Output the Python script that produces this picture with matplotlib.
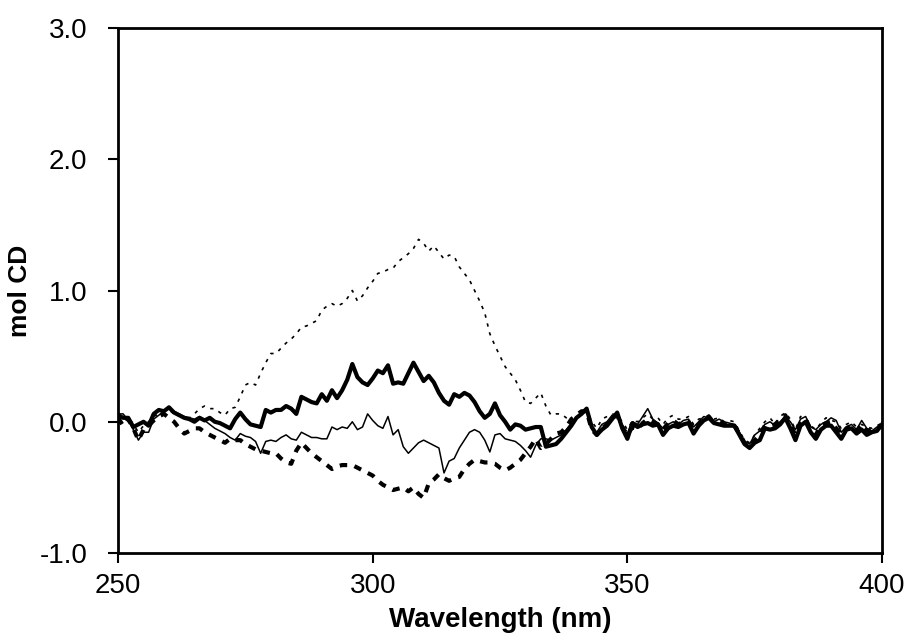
import numpy as np
import matplotlib.pyplot as plt

plt.rcParams['font.family'] = ['Liberation Sans', 'DejaVu Sans']

# wavelength, 1 nm steps
wl = np.arange(250, 401)

# thick solid line
thick_solid = [
    0.05, 0.03, 0.03, -0.04, -0.02, 0.0, -0.03, 0.06, 0.09, 0.08,
    0.11, 0.07, 0.05, 0.03, 0.02, 0.0, 0.03, 0.01, 0.03, 0.0,
    -0.01, -0.03, -0.05, 0.02, 0.07, 0.02, -0.02, -0.03, -0.04, 0.09,
    0.07, 0.09, 0.09, 0.12, 0.1, 0.06, 0.19, 0.17, 0.15, 0.14,
    0.21, 0.16, 0.24, 0.18, 0.24, 0.32, 0.44, 0.34, 0.3, 0.28,
    0.33, 0.39, 0.37, 0.43, 0.29, 0.3, 0.29, 0.37, 0.45, 0.38,
    0.31, 0.35, 0.3, 0.22, 0.16, 0.13, 0.21, 0.19, 0.22, 0.2,
    0.15, 0.08, 0.03, 0.06, 0.14, 0.05, 0.0, -0.06, -0.02, -0.03,
    -0.06, -0.05, -0.04, -0.04, -0.19, -0.18, -0.17, -0.13, -0.08, -0.03,
    0.03, 0.06, 0.1, -0.04, -0.1, -0.06, -0.03, 0.02, 0.07, -0.05,
    -0.13, -0.01, -0.04, -0.02, -0.01, -0.03, -0.02, -0.1, -0.05, -0.03,
    -0.04, -0.02, -0.01, -0.09, -0.03, 0.01, 0.03, -0.01, -0.02, -0.03,
    -0.03, -0.03, -0.1, -0.17, -0.2, -0.16, -0.14, -0.05, -0.06, -0.05,
    -0.02, 0.03, -0.05, -0.14, -0.03, 0.0, -0.08, -0.13, -0.06, -0.03,
    -0.03, -0.08, -0.13, -0.06, -0.05, -0.09, -0.06, -0.1, -0.08, -0.07,
    -0.02]

# thin solid line
thin_solid = [
    0.06, 0.06, 0.01, -0.06, -0.14, -0.08, -0.08, 0.02, 0.05, 0.08,
    0.1, 0.08, 0.06, 0.04, 0.03, 0.02, 0.04, 0.01, -0.02, -0.05,
    -0.07, -0.09, -0.12, -0.14, -0.09, -0.11, -0.12, -0.15, -0.24, -0.15,
    -0.14, -0.15, -0.12, -0.1, -0.13, -0.14, -0.08, -0.1, -0.12, -0.12,
    -0.13, -0.13, -0.04, -0.06, -0.04, -0.05, 0.0, -0.06, -0.04, 0.06,
    0.01, -0.03, -0.05, 0.04, -0.1, -0.06, -0.19, -0.24, -0.2, -0.16,
    -0.14, -0.16, -0.18, -0.2, -0.39, -0.3, -0.28, -0.2, -0.14, -0.08,
    -0.06, -0.08, -0.14, -0.23, -0.1, -0.09, -0.13, -0.14, -0.15, -0.18,
    -0.22, -0.27, -0.18, -0.13, -0.13, -0.14, -0.12, -0.1, -0.06, -0.01,
    0.03, 0.06, 0.08, -0.05, -0.08, -0.02, 0.0, 0.05, 0.04, -0.05,
    -0.09, 0.0, -0.02, 0.04, 0.1, 0.02, -0.01, -0.05, -0.02, 0.0,
    -0.02, 0.01, 0.02, -0.04, 0.0, 0.04, 0.03, 0.0, 0.02, 0.0,
    -0.01, -0.02, -0.08, -0.15, -0.17, -0.1, -0.07, -0.02, 0.0, -0.03,
    0.0, 0.04, 0.0, -0.06, 0.02, 0.04, -0.04, -0.06, -0.02, 0.0,
    0.03, 0.01, -0.08, -0.04, -0.02, -0.06, 0.01, -0.05, -0.07, -0.04,
    -0.02]

# thick dashed line
thick_dashed = [
    0.03, -0.03, 0.02, -0.05, -0.14, -0.06, -0.03, 0.01, 0.04, 0.06,
    0.03, 0.0, -0.05, -0.09, -0.07, -0.05, -0.05, -0.08, -0.1, -0.12,
    -0.14, -0.16, -0.13, -0.14, -0.14, -0.17, -0.19, -0.21, -0.22, -0.23,
    -0.24, -0.24, -0.28, -0.31, -0.32, -0.22, -0.16, -0.2, -0.24, -0.27,
    -0.3, -0.33, -0.36, -0.34, -0.33, -0.33, -0.33, -0.35, -0.37, -0.39,
    -0.41, -0.45, -0.48, -0.5, -0.52, -0.51, -0.5, -0.53, -0.5, -0.55,
    -0.58, -0.47, -0.44, -0.4, -0.43, -0.45, -0.43, -0.42, -0.36, -0.32,
    -0.29, -0.3, -0.31, -0.31, -0.32, -0.35, -0.37, -0.35, -0.32, -0.29,
    -0.24, -0.19, -0.13, -0.2, -0.17, -0.13, -0.09, -0.08, -0.04, 0.02,
    0.05, 0.08, 0.08, -0.06, -0.1, -0.05, -0.02, 0.03, 0.05, -0.04,
    -0.1, -0.04, -0.06, -0.01, 0.02, 0.0, -0.02, -0.06, -0.01, 0.01,
    -0.02, 0.0, 0.0, -0.06, -0.02, 0.02, 0.04, -0.01, 0.0, -0.02,
    -0.02, -0.03, -0.09, -0.16, -0.19, -0.14, -0.1, -0.03, -0.03, -0.02,
    0.02, 0.05, -0.03, -0.1, -0.01, 0.02, -0.06, -0.1, -0.03, -0.01,
    0.0, -0.05, -0.1, -0.05, -0.03, -0.07, -0.02, -0.07, -0.06, -0.05,
    -0.03]

# thin dotted line
thin_dotted = [
    0.03, 0.0, 0.04, -0.02, -0.08, -0.03, 0.0, 0.04, 0.06, 0.08,
    0.09, 0.06, 0.05, 0.04, 0.03, 0.06, 0.1, 0.12, 0.1, 0.1,
    0.07, 0.05, 0.1, 0.11, 0.19, 0.28, 0.3, 0.28, 0.37, 0.45,
    0.52, 0.52, 0.56, 0.6, 0.63, 0.67, 0.72, 0.73, 0.75, 0.77,
    0.85, 0.88, 0.9, 0.88, 0.9, 0.94, 1.0, 0.92, 0.96, 1.02,
    1.07, 1.13, 1.14, 1.16, 1.17, 1.22, 1.25, 1.28, 1.32, 1.39,
    1.36, 1.3, 1.34, 1.29, 1.24, 1.27, 1.26, 1.18, 1.13, 1.08,
    1.0, 0.92, 0.83, 0.67, 0.58, 0.5, 0.42, 0.37, 0.32, 0.24,
    0.15, 0.14, 0.18, 0.22, 0.12, 0.05, 0.06, 0.06, 0.03, 0.01,
    0.02, 0.08, 0.1, 0.0, -0.05, 0.02, 0.04, 0.06, 0.05, 0.0,
    -0.06, 0.01, 0.0, 0.03, 0.06, 0.02, 0.03, -0.02, 0.03, 0.05,
    0.02, 0.02, 0.04, -0.02, 0.02, 0.03, 0.05, 0.02, 0.03, 0.0,
    0.01, 0.0, -0.07, -0.14, -0.16, -0.1, -0.05, 0.0, 0.03, -0.02,
    0.04, 0.07, 0.02, -0.06, 0.04, 0.03, -0.03, -0.06, -0.01, 0.03,
    0.01, 0.0, -0.05, -0.02, 0.0, -0.04, -0.02, -0.04, -0.05, -0.03,
    -0.01]

fig = plt.figure(figsize=(9.08, 6.42), dpi=100)
ax = fig.add_axes([0.13, 0.1386, 0.8414, 0.8178])

ax.plot(wl, thin_dotted, color='black', lw=1.2, linestyle=(0, (2, 3.5)))
ax.plot(wl, thin_solid, color='black', lw=1.1)
ax.plot(wl, thick_dashed, color='black', lw=3, linestyle=(0, (1.8, 1.8)))
ax.plot(wl, thick_solid, color='black', lw=3)

ax.set_xlim(250, 400)
ax.set_ylim(-1, 3)
ax.set_xticks([250, 300, 350, 400])
ax.set_yticks([-1, 0, 1, 2, 3])
ax.set_yticklabels(['-1.0', '0.0', '1.0', '2.0', '3.0'])
ax.tick_params(direction='out', length=7.2, width=1.5, labelsize=20)
ax.tick_params(axis='y', pad=15)
ax.tick_params(axis='x', pad=7)
for s in ax.spines.values():
    s.set_linewidth(2)

ax.set_xlabel('Wavelength (nm)', fontsize=20, fontweight='bold', labelpad=6)
ax.set_ylabel('mol CD', fontsize=19, fontweight='bold', labelpad=5)

fig.savefig('out.png', dpi=100)
